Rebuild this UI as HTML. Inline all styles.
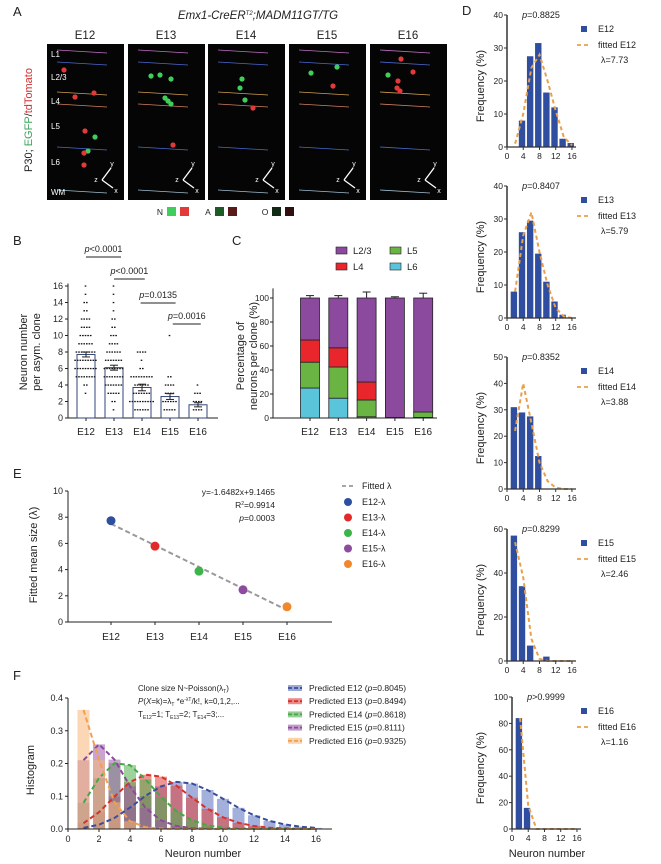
<!DOCTYPE html>
<html><head><meta charset="utf-8"><style>
html,body{margin:0;padding:0;background:#fff;}
svg{display:block;font-family:"Liberation Sans",sans-serif;}
</style></head><body>
<svg id="fig" width="661" height="864" viewBox="0 0 661 864" xmlns="http://www.w3.org/2000/svg"></svg>
<script>
// ---------- data ----------
const stages = ['E12','E13','E14','E15','E16'];
// B
const bMeans = [7.7, 6.1, 3.7, 2.6, 1.6];
const bSem = [0.3, 0.3, 0.4, 0.35, 0.25];
const bDotValues = [[3,4,5,6,7,8,9,10,11,12,13,14,15,16],[1,2,3,4,5,6,7,8,9,10,11,12,13,14,15,16],[1,2,3,4,5,6,7,8],[1,2,3,4,5,10],[1,2,3,4]];
const bDotCounts = [[1,2,8,9,9,8,6,5,4,4,2,2,1,1],[1,2,5,7,8,8,7,6,4,3,2,2,1,1,1,1],[6,10,7,6,9,2,1,4],[5,6,4,4,2,1],[4,4,3,1]];
const bSig = [['p<0.0001',0,1.25],['p<0.0001',1,2.1],['p=0.0135',1.95,3.2],['p=0.0016',3.1,4.1]];
// C
const cL6 = [25, 16.5, 1, 0, 0.5];
const cL5 = [21.5, 26, 14, 0.5, 4.5];
const cL4 = [18.5, 16, 15, 0, 0];
const cL23 = [35, 41.5, 70, 99.5, 95];
// D
const dBins = [2,4,6,8,10,12,14,16];
const dE12 = [0, 8, 27.5, 31.5, 16.5, 12, 2.5, 1.2];
const dE13 = [8, 26, 29.5, 19.5, 11, 5, 1, 0];
const dE14 = [31, 29, 27.5, 12.5, 0, 0, 0, 0];
const dE15 = [57, 34, 7, 0, 2, 0, 0, 0];
const dE16 = [84, 16, 0, 0, 0, 0, 0, 0];
const dFit12 = [1, 10, 24, 28, 20, 11, 3, 0.5];
const dFit13 = [8, 25, 32, 20, 10, 3, 0.5, 0];
const dFit14 = [22, 40, 25, 10, 3, 0.5, 0, 0];
const dFit15 = [54, 38, 10, 1, 0, 0, 0, 0];
const dFit16 = [84, 18, 0, 0, 0, 0, 0, 0];
const dP = ['p=0.8825','p=0.8407','p=0.8352','p=0.8299','p>0.9999'];
const dLambda = ['λ=7.73','λ=5.79','λ=3.88','λ=2.46','λ=1.16'];
const dYmax = [40,40,50,60,100];
const dYstep = [10,10,10,20,20];
// E
const eLambda = [7.73, 5.79, 3.88, 2.46, 1.16];
const eSlope = -1.6482, eIntercept = 9.1465;
// F
const fK = [1,2,3,4,5,6,7,8,9,10,11,12,13,14,15,16];
const fE12 = [.0034,.0131,.0338,.0653,.1010,.1301,.1437,.1388,.1192,.0922,.0648,.0417,.0248,.0137,.0071,.0034];
const fE13 = [.0177,.0512,.0989,.1431,.1657,.1599,.1323,.0957,.0616,.0357,.0188,.0091,.0040,.0017,.0006,.0002];
const fE14 = [.0801,.1554,.2010,.1950,.1513,.0978,.0542,.0263,.0113,.0044,.0016,.0005,0,0,0,0];
const fE15 = [.2101,.2584,.2119,.1303,.0641,.0263,.0092,.0028,.0008,0,0,0,0,0,0,0];
const fE16 = [.3637,.2109,.0816,.0237,.0055,.0011,.0002,0,0,0,0,0,0,0,0,0];
const fLegend = ['Predicted E12 (p=0.8045)','Predicted E13 (p=0.8494)','Predicted E14 (p=0.8618)','Predicted E15 (p=0.8111)','Predicted E16 (p=0.9325)'];

// ---------- helpers ----------
const NS='http://www.w3.org/2000/svg';
const svg=document.getElementById('fig');
function mk(tag, attrs, name){
  const el=document.createElementNS(NS,tag);
  for(const k in attrs) el.setAttribute(k, attrs[k]);
  
  
  svg.appendChild(el);
  return el;
}
function tx(x,y,s,size,anchor,name,extra){
  const a=Object.assign({x:x,y:y,'font-size':size,'text-anchor':anchor||'start',fill:'#222'},extra||{});
  const t=mk('text',a,name); t.textContent=s; return t;
}
function ln(x1,y1,x2,y2,stroke,w,name,dash){
  const a={x1:x1,y1:y1,x2:x2,y2:y2,stroke:stroke,'stroke-width':w};
  if(dash) a['stroke-dasharray']=dash;
  return mk('line',a,name);
}
function vtext(x,y,s,size,name){
  return tx(x,y,s,size,'middle',name,{transform:'rotate(-90 '+x+' '+y+')'});
}

// ---------- Panel A ----------
tx(13,16,'A',13,'start','panel-label-a');
const ti=tx(258,19,'',11.5,'middle','panel-a-title',{'font-style':'italic'});
ti.innerHTML='Emx1-CreER<tspan font-size="6" dy="-4">T2</tspan><tspan dy="4">;MADM11GT/TG</tspan>';
const aX=[47,128,208,289,370];
const aDots={green:[[[95,137],[88,151]],[[151,76],[160,75],[171,79],[165,98],[168,101],[171,104]],[[242,79],[240,88],[245,100]],[[311,73],[337,67]],[[388,75]]],
 red:[[[64,70],[94,93],[75,97],[85,131],[84,153],[84,165]],[[173,145]],[[253,108]],[[333,86]],[[401,59],[413,72],[398,81],[397,88],[400,91]]]};
const layerCols=['#c070c0','#4a6ad0','#d0a050','#d08060','#4a6ad0','#a0c0d0'];
aX.forEach((x,i)=>{
  tx(x+38,39,stages[i],11.5,'middle','stage-title-'+stages[i]);
  mk('rect',{x:x,y:44,width:77,height:156,fill:'#050505'},'image-'+stages[i]);
  const ly=[50,62,92,104,147,190];
  ly.forEach((yy,j)=>{ln(x+10,yy,x+60,yy+3,layerCols[j],0.8,'layer-boundary');});
  aDots.green[i].forEach(p=>mk('circle',{cx:p[0],cy:p[1],r:2.6,fill:'#3fce5a'},'egfp-cell'));
  aDots.red[i].forEach(p=>mk('circle',{cx:p[0],cy:p[1],r:2.6,fill:'#e23a3a'},'tdtomato-cell'));
  const cx=x+55, cy=180;
  ln(cx,cy,cx+9,cy-12,'#fff',1.3,'axis-arrow-y');
  ln(cx,cy,cx+11,cy+8,'#fff',1.3,'axis-arrow-x');
  tx(cx+10,cy-14,'y',7,'middle','axis-y-glyph',{fill:'#fff'});
  tx(cx+14,cy+13,'x',7,'middle','axis-x-glyph',{fill:'#fff'});
  tx(cx-6,cy+2,'z',7,'middle','axis-z-glyph',{fill:'#fff'});
});
[['L1',57],['L2/3',80],['L4',104],['L5',129],['L6',165],['WM',195]].forEach(l=>tx(51,l[1],l[0],8,'start','layer-label',{fill:'#fff'}));
const vl=tx(32,120,'',11,'middle','panel-a-ylabel',{transform:'rotate(-90 32 120)'});
vl.innerHTML='P30; <tspan fill="#3aa55a">EGFP</tspan>/<tspan fill="#d03030">tdTomato</tspan>';
tx(160,215,'N',8.5,'middle','legend-n-label');
mk('rect',{x:167,y:207,width:9,height:9,fill:'#3fce5a'},'legend-n-green');
mk('rect',{x:180,y:207,width:9,height:9,fill:'#e23a3a'},'legend-n-red');
tx(208,215,'A',8.5,'middle','legend-a-label');
mk('rect',{x:215,y:207,width:9,height:9,fill:'#1d5a25'},'legend-a-green');
mk('rect',{x:228,y:207,width:9,height:9,fill:'#5a1a1a'},'legend-a-red');
tx(265,215,'O',8.5,'middle','legend-o-label');
mk('rect',{x:272,y:207,width:9,height:9,fill:'#102a15'},'legend-o-green');
mk('rect',{x:285,y:207,width:9,height:9,fill:'#301010'},'legend-o-red');

// ---------- Panel B ----------
tx(13,245,'B',13,'start','panel-label-b');
const bX0=68,bY0=418,bPx=8.25;
const bx=i=>86+i*28, by=v=>bY0-v*bPx;
ln(bX0,by(16.3),bX0,bY0,'#222',1,'b-y-axis');
ln(bX0,bY0,218,bY0,'#222',1,'b-x-axis');
for(let v=0;v<=16;v+=2){ln(bX0-3,by(v),bX0,by(v),'#222',1,'b-y-tick');tx(bX0-5,by(v)+3,String(v),9,'end','b-y-tick-label');}
stages.forEach((s,i)=>{
  ln(bx(i),bY0,bx(i),bY0+3,'#222',1,'b-x-tick');
  tx(bx(i),bY0+17,s,10,'middle','b-x-tick-label');
  mk('rect',{x:bx(i)-9,y:by(bMeans[i]),width:18,height:bY0-by(bMeans[i]),fill:'#fff',stroke:'#33457a','stroke-width':1},'b-bar-'+s);
  bDotValues[i].forEach((v,j)=>{const n=bDotCounts[i][j];for(let k=0;k<n;k++){mk('rect',{x:bx(i)-n*1.3+k*2.6,y:by(v)-0.6,width:1.6,height:1.3,fill:'#111'},'b-dot');}});
  ln(bx(i)-4,by(bMeans[i]+bSem[i]),bx(i)+4,by(bMeans[i]+bSem[i]),'#222',1,'b-error-cap');
  ln(bx(i),by(bMeans[i]+bSem[i]),bx(i),by(bMeans[i]-bSem[i]),'#222',1,'b-error-bar');
  ln(bx(i)-4,by(bMeans[i]-bSem[i]),bx(i)+4,by(bMeans[i]-bSem[i]),'#222',1,'b-error-cap');
});
const sigY=[257,279,303,324];
bSig.forEach((s,i)=>{
  const x1=bx(0)+s[1]*28, x2=bx(0)+s[2]*28;
  ln(x1,sigY[i],x2,sigY[i],'#222',1,'b-significance-line');
  const t=tx((x1+x2)/2,sigY[i]-5,'',9,'middle','b-pvalue');
  t.innerHTML='<tspan font-style="italic">p</tspan>'+s[0].slice(1).replace('<','&lt;');
});
vtext(27,352,'Neuron number',11,'b-y-title-line1');
vtext(40,352,'per asym. clone',11,'b-y-title-line2');

// ---------- Panel C ----------
tx(232,245,'C',13,'start','panel-label-c');
const cX0=273,cY0=418,cPx=1.2;
const cx=i=>310+i*28.3, cy=v=>cY0-v*cPx;
ln(cX0,cy(108),cX0,cY0,'#222',1,'c-y-axis');
ln(cX0,cY0,437,cY0,'#222',1,'c-x-axis');
for(let v=0;v<=100;v+=20){ln(cX0-3,cy(v),cX0,cy(v),'#222',1,'c-y-tick');tx(cX0-4,cy(v)+3,String(v),8.5,'end','c-y-tick-label');}
const cCols=['#5ac5da','#6ab443','#e8262b','#8b4a9e'];
const cNames=['l6','l5','l4','l23'];
const cErr=[[2,2,1.5,2],[2,2,1.5,2],[1.5,2,4,5],[0,0.5,0,1],[0.5,3,0,4]];
stages.forEach((s,i)=>{
  const vals=[cL6[i],cL5[i],cL4[i],cL23[i]];
  let base=0;
  vals.forEach((v,j)=>{
    if(v>0) mk('rect',{x:cx(i)-9.5,y:cy(base+v),width:19,height:v*cPx,fill:cCols[j],stroke:'#222','stroke-width':0.8},'c-segment-'+cNames[j]+'-'+s);
    base+=v;
    const e=cErr[i][j];
    if(e>0){ln(cx(i),cy(base),cx(i),cy(base+e),'#222',1,'c-error-bar');ln(cx(i)-4,cy(base+e),cx(i)+4,cy(base+e),'#222',1,'c-error-cap');}
  });
  ln(cx(i),cY0,cx(i),cY0+3,'#222',1,'c-x-tick');
  tx(cx(i),cY0+17,s,10,'middle','c-x-tick-label');
});
[['L2/3',336,251,3],['L5',390,251,1],['L4',336,267,2],['L6',390,267,0]].forEach(l=>{
  mk('rect',{x:l[1],y:l[2]-4,width:11,height:7,fill:cCols[l[3]],stroke:'#222','stroke-width':0.6},'c-legend-swatch');
  tx(l[1]+17,l[2]+3,l[0],9.5,'start','c-legend-label');
});
vtext(244,356,'Percentage of',11,'c-y-title-line1');
vtext(257,356,'neurons per clone (%)',11,'c-y-title-line2');

// ---------- Panel D ----------
tx(462,15,'D',13,'start','panel-label-d');
const dBox=[[15,147],[186,318],[357,489],[529,661],[697,829]];
const dAx=[507,507,507,507,512];
const dBars=[dE12,dE13,dE14,dE15,dE16];
const dFits=[dFit12,dFit13,dFit14,dFit15,dFit16];
dBox.forEach((b,p)=>{
  const x0=dAx[p], ux=4.06, top=b[0], bot=b[1];
  const X=v=>x0+v*ux, Y=v=>bot-(v/dYmax[p])*(bot-top);
  const st=stages[p];
  dBins.forEach((k,i)=>{const v=dBars[p][i]; if(v>0) mk('rect',{x:X(k-0.3)-3.2,y:Y(v),width:6.4,height:bot-Y(v),fill:'#2f4ea0'},'d-bar-'+st);});
  let d=''; dBins.forEach((k,i)=>{d+=(i?'L':'M')+X(k).toFixed(1)+' '+Y(dFits[p][i]).toFixed(1);});
  mk('path',{d:d,fill:'none',stroke:'#e8a04a','stroke-width':2,'stroke-dasharray':'4 3'},'d-fit-curve-'+st);
  ln(x0,top,x0,bot,'#333',1.5,'d-y-axis');
  ln(x0,bot,X(17),bot,'#333',1.2,'d-x-axis');
  for(let v=0;v<=dYmax[p];v+=dYstep[p]){ln(x0-3,Y(v),x0,Y(v),'#333',1,'d-y-tick');tx(x0-4,Y(v)+3,String(v),8.5,'end','d-y-tick-label');}
  [0,4,8,12,16].forEach(v=>{ln(X(v),bot,X(v),bot+3,'#333',1,'d-x-tick');tx(X(v),bot+12,String(v),8.5,'middle','d-x-tick-label');});
  const pt=tx(x0+34,top+3,'',9,'middle','d-pvalue-'+st);
  pt.innerHTML='<tspan font-style="italic">p</tspan>'+dP[p].slice(1).replace('>','&gt;');
  const ly=top+14;
  mk('rect',{x:581,y:ly-3,width:6,height:6,fill:'#2f4ea0'},'d-legend-swatch-'+st);
  tx(598,ly+3,st,9,'start','d-legend-label-'+st);
  ln(577,ly+16,591,ly+16,'#e8a04a',1.8,'d-legend-fit-line','4 3');
  tx(598,ly+19,'fitted '+st,9,'start','d-legend-fit-label');
  tx(601,ly+34,dLambda[p],9,'start','d-lambda-'+st);
  vtext(484,(top+bot)/2+5,'Frequency (%)',11,'d-y-title');
});
tx(547,857,'Neuron number',11,'middle','d-x-title');

// ---------- Panel E ----------
tx(13,478,'E',13,'start','panel-label-e');
const eX0=68,eY0=622,ePx=13.1;
const ex=i=>111+i*44, ey=v=>eY0-v*ePx;
ln(eX0,ey(10),eX0,eY0,'#222',1,'e-y-axis');
ln(eX0,eY0,332,eY0,'#222',1,'e-x-axis');
for(let v=0;v<=10;v+=2){ln(eX0-3,ey(v),eX0,ey(v),'#222',1,'e-y-tick');tx(eX0-5,ey(v)+3,String(v),9,'end','e-y-tick-label');}
stages.forEach((s,i)=>{ln(ex(i),eY0,ex(i),eY0+3,'#222',1,'e-x-tick');tx(ex(i),eY0+18,s,10,'middle','e-x-tick-label');});
ln(ex(0),ey(eSlope*1+eIntercept),ex(4),ey(eSlope*5+eIntercept),'#999',2,'e-fitted-line','5 3');
const eCols=['#2e4fa0','#e32a2a','#3bb54a','#8d4b9e','#f0892e'];
eLambda.forEach((v,i)=>mk('circle',{cx:ex(i),cy:ey(v),r:4.5,fill:eCols[i]},'e-point-'+stages[i]));
tx(275,495,'y=-1.6482x+9.1465',8.5,'end','e-equation');
const r2=tx(275,508,'',8.5,'end','e-r-squared');r2.innerHTML='R<tspan font-size="5" dy="-3">2</tspan><tspan dy="3">=0.9914</tspan>';
const ep=tx(275,521,'',8.5,'end','e-pvalue');ep.innerHTML='<tspan font-style="italic">p</tspan>=0.0003';
ln(342,486,355,486,'#999',1.8,'e-legend-line','4 3');
tx(362,489,'Fitted λ',9,'start','e-legend-fitted');
stages.forEach((s,i)=>{const y=502+i*15.5;mk('circle',{cx:348,cy:y,r:4,fill:eCols[i]},'e-legend-dot');tx(362,y+3,s+'-λ',9,'start','e-legend-label');});
vtext(37,555,'Fitted mean size (λ)',11,'e-y-title');

// ---------- Panel F ----------
tx(13,680,'F',13,'start','panel-label-f');
const fX0=68,fY0=829,fPx=327.5,fUx=15.5;
const fx=v=>fX0+v*fUx, fy=v=>fY0-v*fPx;
const fSeries=[fE12,fE13,fE14,fE15,fE16];
const fCols=['#5a6fbf','#e0403a','#4fae4f','#9b5aa8','#f7b77a'];
const fLine=['#3a4d9a','#d8302a','#45a845','#8a4a9a','#f0a050'];
fSeries.forEach((ser,s)=>{fK.forEach((k,i)=>{if(ser[i]>0.002) mk('rect',{x:fx(k)-6,y:fy(ser[i]),width:12,height:fY0-fy(ser[i]),fill:fCols[s],'fill-opacity':0.55},'f-bar-'+stages[s]);});});
fSeries.forEach((ser,s)=>{let d='';fK.forEach((k,i)=>{d+=(i?'L':'M')+fx(k).toFixed(1)+' '+fy(ser[i]).toFixed(1);});mk('path',{d:d,fill:'none',stroke:fLine[s],'stroke-width':2,'stroke-dasharray':'5 3'},'f-curve-'+stages[s]);});
ln(fX0,fy(0.4),fX0,fY0,'#222',1,'f-y-axis');
ln(fX0,fY0,332,fY0,'#222',1,'f-x-axis');
for(let i=0;i<=4;i++){const v=i/10;ln(fX0-3,fy(v),fX0,fy(v),'#222',1,'f-y-tick');tx(fX0-5,fy(v)+3,v.toFixed(1),9,'end','f-y-tick-label');}
for(let v=0;v<=16;v+=2){ln(fx(v),fY0,fx(v),fY0+3,'#222',1,'f-x-tick');tx(fx(v),fY0+13,String(v),9,'middle','f-x-tick-label');}
tx(203,857,'Neuron number',11,'middle','f-x-title');
vtext(34,770,'Histogram',11,'f-y-title');
const a1=tx(138,691,'',8,'start','f-annotation-1');a1.innerHTML='Clone size N~Poisson(λ<tspan font-size="5" dy="2">T</tspan><tspan dy="-2">)</tspan>';
const a2=tx(138,704,'',8,'start','f-annotation-2');a2.innerHTML='<tspan font-style="italic">P</tspan>(<tspan font-style="italic">X</tspan>=k)=λ<tspan font-size="5" dy="2">T</tspan><tspan dy="-2"> *e</tspan><tspan font-size="5" dy="-3">-λT</tspan><tspan dy="3">/k!, k=0,1,2,...</tspan>';
const a3=tx(138,717,'',8,'start','f-annotation-3');a3.innerHTML='T<tspan font-size="5" dy="2">E12</tspan><tspan dy="-2">=1; T</tspan><tspan font-size="5" dy="2">E13</tspan><tspan dy="-2">=2; T</tspan><tspan font-size="5" dy="2">E14</tspan><tspan dy="-2">=3;...</tspan>';
fLegend.forEach((s,i)=>{const y=688+i*13.2;
  mk('rect',{x:288,y:y-3,width:14,height:6,fill:fCols[i],'fill-opacity':0.6},'f-legend-swatch');
  ln(288,y,302,y,fLine[i],1.8,'f-legend-line','4 2');
  const t=tx(309,y+3,'',8.5,'start','f-legend-label');
  t.innerHTML=s.replace('(p','(<tspan font-style="italic">p</tspan>');
});
</script>
</body></html>
